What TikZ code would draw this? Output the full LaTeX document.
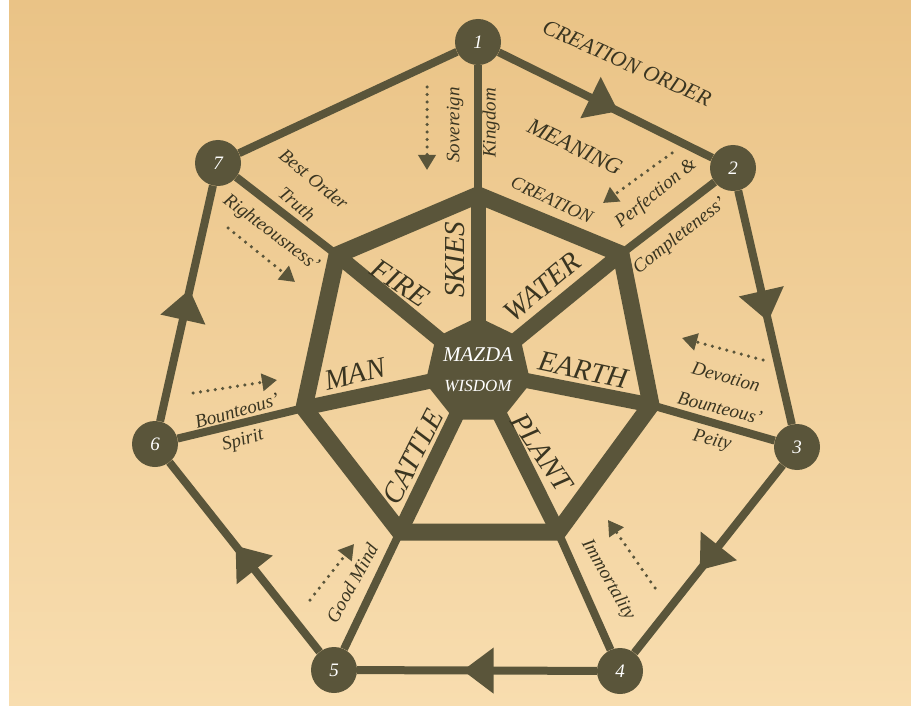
\documentclass[tikz,border=0pt]{standalone}
\usepackage{fontspec}
\setmainfont{Liberation Serif}
\usetikzlibrary{arrows.meta,decorations.markings,shapes.geometric}
\definecolor{ink}{RGB}{90,85,58}
\definecolor{inktext}{RGB}{58,53,33}
\definecolor{paper}{RGB}{248,221,175}
\definecolor{papermid}{RGB}{243,209,154}
\definecolor{paperdark}{RGB}{234,195,134}

\begin{document}
\begin{tikzpicture}[
        x=1pt, y=-1pt,
        outer_node/.style={circle, fill=ink, minimum size=46pt, inner sep=0pt, text=white, font=\itshape\fontsize{19}{19}\selectfont},
        core_node/.style={regular polygon, regular polygon sides=7, fill=ink, minimum size=108pt, inner sep=0pt},
        core_text/.style={text=white, inner sep=0pt, font=\itshape\fontsize{#1}{#1}\selectfont},
        thin_line/.style={ink, line width=8pt},
        spoke_line/.style={ink, line width=15pt},
        ring_line/.style={ink, line width=17pt, line join=round},
        mid_arrow/.style={postaction={decorate}, decoration={markings, mark=at position 0.56 with {\arrow{Triangle[length=31pt, width=44pt]}}}},
        hint_arrow/.style={ink, line width=3.5pt, line cap=round, dash pattern=on 0pt off 7.5pt, -{Triangle[length=15pt, width=17pt]}},
        big_label/.style={text=inktext, inner sep=0pt, font=\itshape\fontsize{29}{29}\selectfont},
        caps_label/.style={text=inktext, inner sep=0pt, font=\itshape\fontsize{#1}{#1}\selectfont},
        small_label/.style={text=inktext, inner sep=0pt, font=\itshape\fontsize{19}{19}\selectfont}
    ]
    % Paper
    \useasboundingbox (0,0) rectangle (911,706);
    \fill[white] (0,0) rectangle (911,706);
    \shade[top color=paperdark, middle color=papermid, bottom color=paper] (9,0) rectangle (911,706);

    % Inner ring corners
    \coordinate (c) at (478,371);
    \coordinate (v1) at (478,195);
    \coordinate (v2) at (621,254);
    \coordinate (v3) at (651,405);
    \coordinate (v4) at (558,532);
    \coordinate (v5) at (400,532);
    \coordinate (v6) at (304,408);
    \coordinate (v7) at (337,255);

    % Outer ring
    \node[outer_node] (n1) at (478,42) {1};
    \node[outer_node] (n2) at (733,168) {2};
    \node[outer_node] (n3) at (797,447) {3};
    \node[outer_node] (n4) at (620,671) {4};
    \node[outer_node] (n5) at (334,670) {5};
    \node[outer_node] (n6) at (155,444) {6};
    \node[outer_node] (n7) at (218,163) {7};

    \draw[thin_line, mid_arrow] (n1) -- (n2);
    \draw[thin_line, mid_arrow] (n2) -- (n3);
    \draw[thin_line, mid_arrow] (n3) -- (n4);
    \draw[thin_line, mid_arrow] (n4) -- (n5);
    \draw[thin_line, mid_arrow] (n5) -- (n6);
    \draw[thin_line, mid_arrow] (n6) -- (n7);
    \draw[thin_line] (n7) -- (n1);

    % Links to the inner ring
    \draw[thin_line] (v1) -- (n1);
    \draw[thin_line] (v2) -- (n2);
    \draw[thin_line] (v3) -- (n3);
    \draw[thin_line] (v4) -- (n4);
    \draw[thin_line] (v5) -- (n5);
    \draw[thin_line] (v6) -- (n6);
    \draw[thin_line] (v7) -- (n7);

    % Spokes and inner ring
    \draw[spoke_line] (c) -- (v1);
    \draw[spoke_line] (c) -- (v2);
    \draw[spoke_line] (c) -- (v3);
    \draw[spoke_line] (c) -- (v4);
    \draw[spoke_line] (c) -- (v5);
    \draw[spoke_line] (c) -- (v6);
    \draw[spoke_line] (c) -- (v7);
    \draw[ring_line] (v1) -- (v2) -- (v3) -- (v4) -- (v5) -- (v6) -- (v7) -- cycle;

    % Centre
    \node[core_node] (core) at (c) {};
    \node[core_text=21] (mazda) at (478,355) {MAZDA};
    \node[core_text=17] (wisdom) at (478,386) {WISDOM};

    % Elements
    \node[big_label, rotate=-34] (fire) at (400,283) {FIRE};
    \node[big_label, rotate=90] (skies) at (455,260) {SKIES};
    \node[big_label, rotate=40] (water) at (542,287) {WATER};
    \node[big_label, rotate=-12] (earth) at (583,370) {EARTH};
    \node[big_label, rotate=13] (man) at (355,374) {MAN};
    \node[big_label, rotate=63] (cattle) at (413,457) {CATTLE};
    \node[big_label, rotate=-56] (plant) at (542,452) {PLANT};

    % Outer texts
    \node[caps_label=22, rotate=-24] (creation_order) at (627,63) {CREATION ORDER};
    \node[caps_label=23, rotate=-26] (meaning) at (575,147) {MEANING};
    \node[caps_label=18.5, rotate=-25] (creation) at (552,200) {CREATION};
    \node[small_label, rotate=90] (sovereign) at (455,125) {Sovereign};
    \node[small_label, rotate=90] (kingdom) at (491,123) {Kingdom};
    \node[small_label, rotate=39] (perfection) at (656,194) {Perfection \&};
    \node[small_label, rotate=38] (completeness) at (680,236) {Completeness'};
    \node[small_label, rotate=-15] (devotion) at (726,377) {Devotion};
    \node[small_label, rotate=-14] (bounteous_piety) at (720,408) {Bounteous'};
    \node[small_label, rotate=-14] (piety) at (712,441) {Peity};
    \node[small_label, rotate=-60] (immortality) at (608,580) {Immortality};
    \node[small_label, rotate=61] (good_mind) at (352,583) {Good Mind};
    \node[small_label, rotate=16] (bounteous_spirit) at (237,411) {Bounteous'};
    \node[small_label, rotate=16] (spirit) at (243,441) {Spirit};
    \node[small_label, rotate=-40] (best_order) at (314,179) {Best Order};
    \node[small_label, rotate=-40] (truth) at (297,204) {Truth};
    \node[small_label, rotate=-37] (righteousness) at (271,233) {Righteousness'};

    % Dotted hints
    \draw[hint_arrow] (427,87) -- (427,170);
    \draw[hint_arrow] (672,153) -- (603,203);
    \draw[hint_arrow] (763,360) -- (682,338);
    \draw[hint_arrow] (655,588) -- (608,520);
    \draw[hint_arrow] (310,600) -- (354,544);
    \draw[hint_arrow] (193,393) -- (277,380);
    \draw[hint_arrow] (228,228) -- (295,282);
\end{tikzpicture}
\end{document}
